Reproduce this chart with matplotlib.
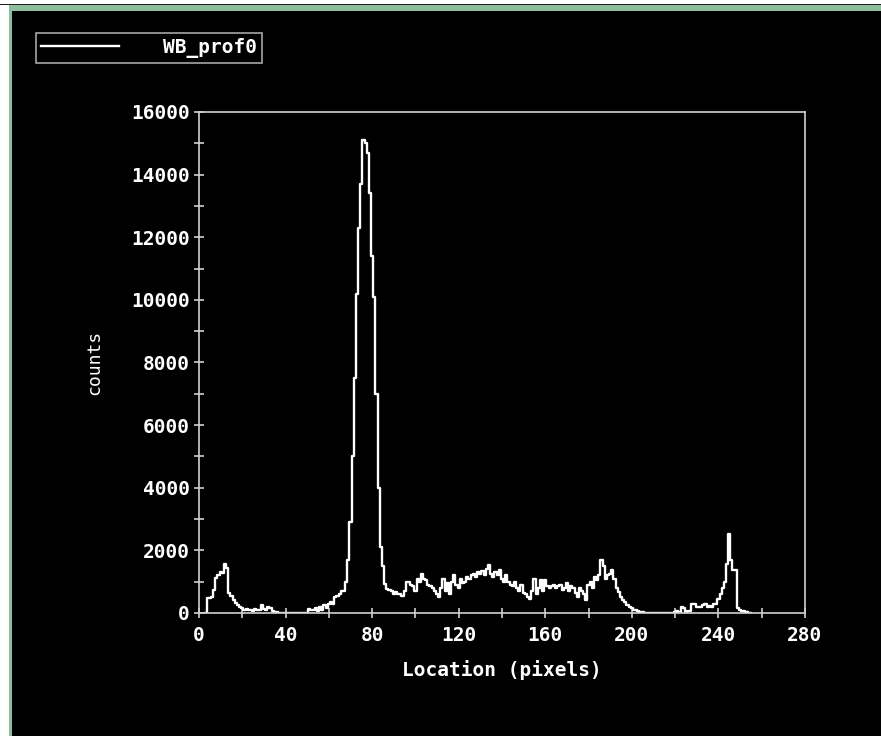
import matplotlib
matplotlib.use('Agg')
from matplotlib import pyplot as plt
from matplotlib.patches import Rectangle
from matplotlib.ticker import MultipleLocator
import numpy as np

# profile values, one per pixel location (3..255)
location = list(range(3, 256))
counts = [
    0, 480, 480, 500, 750, 1130, 1200, 1300, 1280, 1570,          # 3-12
    1450, 650, 550, 400, 330, 250, 190, 150, 100, 130,            # 13-22
    80, 100, 60, 130, 90, 80, 240, 120, 100, 200,                 # 23-32
    150, 60, 40, 20, 10, 10, 0, 0, 10, 0,                         # 33-42
    0, 0, 10, 0, 0, 0, 10, 0, 130, 100,                           # 43-52
    80, 150, 60, 200, 100, 250, 150, 300, 350, 280,               # 53-62
    500, 550, 600, 700, 700, 1000, 1700, 2900, 5000, 7500,        # 63-72
    10200, 12300, 13700, 15100, 15000, 14700, 13400, 11400, 10100, 7000,  # 73-82
    4000, 2100, 1500, 940, 780, 720, 700, 620, 680, 600,          # 83-92
    600, 550, 700, 980, 1000, 900, 850, 700, 1100, 1000,          # 93-102
    1260, 1100, 1050, 900, 850, 800, 700, 600, 500, 800,          # 103-112
    1100, 700, 950, 600, 1000, 1200, 900, 800, 1100, 950,         # 113-122
    1000, 1150, 1100, 1200, 1250, 1150, 1300, 1250, 1350, 1200,   # 123-132
    1400, 1520, 1250, 1150, 1300, 1200, 1360, 1100, 1000, 1200,   # 133-142
    1000, 900, 850, 1000, 800, 700, 900, 650, 600, 500,           # 143-152
    460, 700, 1100, 600, 800, 1050, 700, 1040, 850, 800,          # 153-162
    850, 900, 800, 850, 900, 750, 800, 950, 700, 850,             # 163-172
    800, 650, 500, 800, 700, 600, 400, 900, 1000, 800,            # 173-182
    1140, 1050, 1200, 1680, 1500, 1100, 1200, 1250, 1360, 1100,   # 183-192
    800, 665, 500, 400, 345, 250, 185, 150, 100, 80,              # 193-202
    60, 40, 20, 10, 0, 10, 0, 0, 10, 0,                           # 203-212
    0, 10, 0, 0, 10, 0, 0, 40, 60, 30,                            # 213-222
    185, 150, 40, 60, 50, 300, 280, 200, 180, 200,                # 223-232
    250, 300, 200, 220, 200, 300, 300, 450, 600, 800,             # 233-242
    1000, 1580, 2530, 1700, 1360, 1360, 150, 100, 60, 60,         # 243-252
    30, 0, 0,                                                     # 253-255
]
series_name = 'WB_prof0'
x_label = 'Location (pixels)'
y_label = 'counts'

W, H = 881, 736
fig = plt.figure(figsize=(W / 100, H / 100), dpi=100, facecolor='black')


def pxRect(x0, y0, x1, y1, color):
    # rectangle in pixel coordinates (origin top-left)
    fig.patches.append(Rectangle((x0 / W, 1 - y1 / H), (x1 - x0) / W, (y1 - y0) / H,
                                 transform=fig.transFigure, facecolor=color,
                                 edgecolor='none', zorder=0))


# window frame
green = '#8dbd9f'
pxRect(0, 0, W, 4, 'white')
pxRect(0, 0, 9, H, 'white')
pxRect(0, 4, W, 5, '#202020')
pxRect(9, 5, W, 11, green)
pxRect(9, 5, 12, H, green)

ax = fig.add_axes([199 / W, 1 - 613 / H, 606 / W, 501 / H])
ax.set_facecolor('black')

line, = ax.plot(location, counts, color='white', lw=1.7, drawstyle='steps-mid',
                label=series_name)

ax.set_xlim(0, 280)
ax.set_ylim(0, 16000)
ax.xaxis.set_major_locator(MultipleLocator(40))
ax.xaxis.set_minor_locator(MultipleLocator(20))
ax.yaxis.set_major_locator(MultipleLocator(2000))
ax.yaxis.set_minor_locator(MultipleLocator(1000))

for s in ax.spines.values():
    s.set_color('#d0d0d0')
    s.set_linewidth(1.2)

ax.tick_params(which='both', direction='inout', length=7, width=1.2,
               color='#d0d0d0', labelcolor='white')
ax.tick_params(axis='x', pad=6)
ax.tick_params(axis='y', pad=3)

mono = 'DejaVu Sans Mono'
for lbl in ax.get_xticklabels() + ax.get_yticklabels():
    lbl.set_fontfamily(mono)
    lbl.set_fontweight('bold')
    lbl.set_fontsize(14)

ax.set_xlabel(x_label, family=mono, fontweight='bold', fontsize=14, color='white')
ax.set_ylabel(y_label, family=mono, fontsize=13, color='white')
ax.xaxis.set_label_coords(0.5, -0.093)
ax.yaxis.set_label_coords(-0.158, 0.5)

lgd = ax.legend(loc='upper left', bbox_to_anchor=(36 / W, 1 - 33 / H),
                bbox_transform=fig.transFigure, frameon=True, fancybox=False,
                handlelength=4.0, handletextpad=2.3, borderpad=0.25,
                borderaxespad=0, prop={'family': mono, 'weight': 'bold', 'size': 14})
lgd.get_frame().set_facecolor('black')
lgd.get_frame().set_edgecolor('#d0d0d0')
lgd.get_frame().set_linewidth(1.2)
for t in lgd.get_texts():
    t.set_color('white')

fig.savefig('out.png', dpi=100, facecolor=fig.get_facecolor())
